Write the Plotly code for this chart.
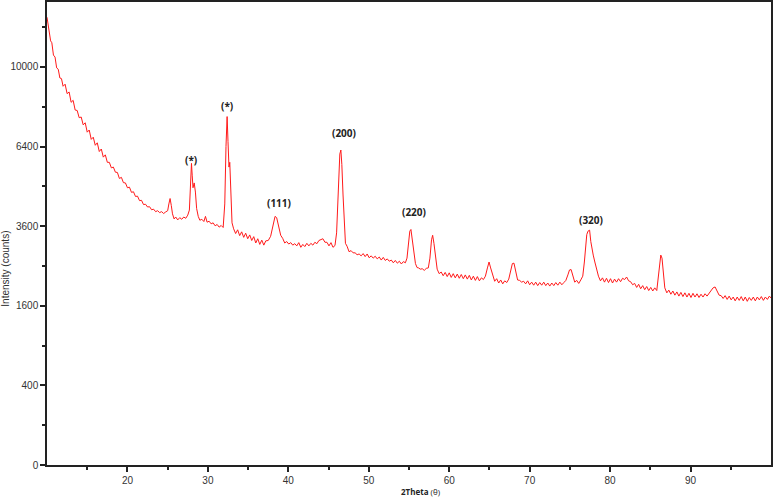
import numpy as np
import plotly.graph_objects as go

# XRD pattern (2theta in degrees, intensity in counts)
two_theta = [
    10.00, 10.15, 10.30, 10.45, 10.60, 10.80, 11.00, 11.20, 11.40, 11.60, 11.80, 12.00,
    12.25, 12.50, 12.75, 13.00, 13.25, 13.50, 13.75, 14.00, 14.25, 14.50, 14.75, 15.00,
    15.25, 15.50, 15.75, 16.00, 16.25, 16.50, 16.75, 17.00, 17.25, 17.50, 17.75, 18.00,
    18.25, 18.50, 18.75, 19.00, 19.25, 19.50, 19.75, 20.00, 20.25, 20.50, 20.75, 21.00,
    21.25, 21.50, 21.75, 22.00, 22.25, 22.50, 22.75, 23.00, 23.25, 23.50, 23.75, 24.00,
    24.25, 24.50, 24.75, 25.00, 25.15, 25.30, 25.45, 25.60, 25.80, 26.00, 26.25, 26.50,
    26.75, 27.00, 27.25, 27.50, 27.70, 27.85, 27.96, 28.05, 28.15, 28.30, 28.45, 28.60,
    28.80, 29.00, 29.25, 29.50, 29.70, 29.90, 30.15, 30.40, 30.65, 30.90, 31.15, 31.40,
    31.65, 31.90, 32.10, 32.25, 32.39, 32.50, 32.62, 32.72, 32.85, 33.00, 33.20, 33.45,
    33.70, 33.95, 34.20, 34.45, 34.70, 34.95, 35.20, 35.45, 35.70, 35.95, 36.20, 36.45,
    36.70, 36.95, 37.20, 37.50, 37.80, 38.10, 38.35, 38.55, 38.80, 39.05, 39.30, 39.55,
    39.80, 40.05, 40.30, 40.55, 40.80, 41.05, 41.30, 41.55, 41.80, 42.05, 42.30, 42.55,
    42.80, 43.05, 43.30, 43.55, 43.80, 44.05, 44.30, 44.55, 44.80, 45.05, 45.30, 45.55,
    45.80, 46.00, 46.20, 46.40, 46.53, 46.65, 46.80, 46.95, 47.10, 47.30, 47.55, 47.80,
    48.05, 48.30, 48.55, 48.80, 49.05, 49.30, 49.55, 49.80, 50.05, 50.30, 50.55, 50.80,
    51.05, 51.30, 51.55, 51.80, 52.05, 52.30, 52.55, 52.80, 53.05, 53.30, 53.55, 53.80,
    54.05, 54.30, 54.55, 54.75, 54.95, 55.10, 55.24, 55.40, 55.60, 55.80, 56.00, 56.20,
    56.40, 56.65, 56.90, 57.15, 57.40, 57.60, 57.80, 57.94, 58.10, 58.30, 58.50, 58.75,
    59.00, 59.25, 59.50, 59.75, 60.00, 60.25, 60.50, 60.75, 61.00, 61.25, 61.50, 61.75,
    62.00, 62.25, 62.50, 62.75, 63.00, 63.25, 63.50, 63.75, 64.00, 64.25, 64.50, 64.75,
    64.95, 65.15, 65.40, 65.65, 65.90, 66.15, 66.40, 66.65, 66.90, 67.15, 67.40, 67.65,
    67.85, 68.05, 68.25, 68.50, 68.75, 69.00, 69.25, 69.50, 69.75, 70.00, 70.25, 70.50,
    70.75, 71.00, 71.25, 71.50, 71.75, 72.00, 72.25, 72.50, 72.75, 73.00, 73.25, 73.50,
    73.75, 74.00, 74.25, 74.50, 74.75, 74.95, 75.15, 75.35, 75.60, 75.85, 76.10, 76.35,
    76.60, 76.80, 76.95, 77.10, 77.25, 77.45, 77.60, 77.75, 77.90, 78.10, 78.30, 78.55,
    78.80, 79.05, 79.30, 79.55, 79.80, 80.05, 80.30, 80.55, 80.80, 81.05, 81.30, 81.55,
    81.80, 82.05, 82.30, 82.55, 82.80, 83.05, 83.30, 83.55, 83.80, 84.05, 84.30, 84.55,
    84.80, 85.05, 85.30, 85.55, 85.80, 86.00, 86.15, 86.30, 86.45, 86.60, 86.80, 87.05,
    87.30, 87.55, 87.80, 88.05, 88.30, 88.55, 88.80, 89.05, 89.30, 89.55, 89.80, 90.05,
    90.30, 90.55, 90.80, 91.05, 91.30, 91.55, 91.80, 92.05, 92.30, 92.55, 92.80, 93.05,
    93.30, 93.55, 93.80, 94.05, 94.30, 94.55, 94.80, 95.05, 95.30, 95.55, 95.80, 96.05,
    96.30, 96.55, 96.80, 97.05, 97.30, 97.55, 97.80, 98.05, 98.30, 98.55, 98.80, 99.05,
    99.30, 99.55, 99.80, 100.0,
]
counts = [
    12650, 12200, 11990, 11350, 11250, 10600, 10500, 9950, 9880, 9450, 9420, 9050,
    9150, 8700, 8780, 8300, 8390, 7950, 7930, 7610, 7640, 7300, 7390, 6990,
    7080, 6690, 6780, 6450, 6550, 6200, 6300, 5980, 6070, 5780, 5780, 5570,
    5600, 5410, 5400, 5180, 5220, 5030, 5020, 4850, 4870, 4690, 4710, 4550,
    4560, 4410, 4420, 4280, 4290, 4200, 4210, 4110, 4130, 4050, 4080, 4020,
    4050, 3990, 4040, 4080, 4300, 4480, 4250, 3980, 3820, 3880, 3790, 3860,
    3810, 3880, 3840, 3940, 4100, 5200, 5740, 5300, 4850, 5020, 4700, 4150,
    3900, 3780, 3810, 3740, 3900, 3720, 3750, 3670, 3700, 3610, 3650, 3570,
    3620, 3560, 4300, 6400, 7660, 6600, 5600, 5780, 4600, 3700, 3520, 3380,
    3490, 3320, 3430, 3270, 3390, 3230, 3340, 3180, 3290, 3110, 3230, 3070,
    3190, 3050, 3170, 3180, 3300, 3650, 3900, 3860, 3550, 3330, 3240, 3110,
    3150, 3080, 3120, 3050, 3090, 3030, 3120, 2990, 3070, 3010, 3100, 3030,
    3100, 3050, 3130, 3090, 3180, 3200, 3230, 3130, 3130, 3030, 3120, 2990,
    3040, 3400, 4700, 6100, 6260, 5700, 4600, 3500, 3100, 3020, 2870, 2900,
    2840, 2840, 2790, 2810, 2760, 2820, 2740, 2810, 2710, 2760, 2700, 2750,
    2680, 2730, 2650, 2720, 2640, 2680, 2620, 2650, 2580, 2640, 2570, 2620,
    2550, 2610, 2580, 2700, 3150, 3450, 3500, 3200, 2750, 2560, 2460, 2450,
    2420, 2430, 2390, 2440, 2450, 2700, 3200, 3330, 3100, 2650, 2420, 2310,
    2350, 2260, 2340, 2240, 2330, 2220, 2310, 2210, 2300, 2200, 2290, 2190,
    2280, 2180, 2270, 2160, 2250, 2150, 2240, 2140, 2210, 2170, 2250, 2450,
    2600, 2450, 2260, 2130, 2190, 2090, 2160, 2070, 2140, 2100, 2180, 2400,
    2560, 2570, 2350, 2160, 2150, 2110, 2130, 2070, 2140, 2050, 2110, 2040,
    2110, 2030, 2100, 2040, 2110, 2030, 2090, 2020, 2090, 2030, 2100, 2040,
    2110, 2050, 2100, 2150, 2280, 2400, 2410, 2250, 2110, 2150, 2080, 2160,
    2250, 2600, 3100, 3350, 3450, 3480, 3150, 2900, 2780, 2600, 2420, 2250,
    2140, 2210, 2110, 2200, 2100, 2190, 2090, 2180, 2110, 2190, 2120, 2200,
    2170, 2230, 2140, 2120, 2050, 2080, 1990, 2060, 1960, 2030, 1940, 2010,
    1920, 1990, 1910, 1980, 1920, 2200, 2550, 2780, 2700, 2300, 1980, 1870,
    1930, 1840, 1910, 1820, 1890, 1800, 1880, 1790, 1870, 1780, 1860, 1770,
    1860, 1780, 1850, 1770, 1840, 1780, 1850, 1800, 1860, 1920, 1980, 2000,
    1900, 1820, 1810, 1750, 1810, 1730, 1800, 1720, 1780, 1700, 1780, 1710,
    1790, 1700, 1780, 1690, 1770, 1710, 1780, 1700, 1780, 1720, 1790, 1710,
    1780, 1730, 1800, 1760,
]

# peak labels: text, 2theta, intensity of label position
peak_labels = ["(*)", "(*)", "(111)", "(200)", "(220)", "(320)"]
label_theta = [27.96, 32.39, 38.86, 46.95, 55.65, 77.6]
label_counts = [5870, 8120, 4320, 6960, 4050, 3780]

# y axis is a square-root scale
y_ticks = [0, 400, 1600, 3600, 6400, 10000]
y_minor = [100, 900, 2500, 4900, 8100, 12100]
x_ticks = [20, 30, 40, 50, 60, 70, 80, 90]
x_minor = [15, 25, 35, 45, 55, 65, 75, 85, 95]

fig = go.Figure()
fig.add_trace(go.Scatter(
    x=two_theta, y=np.sqrt(counts),
    mode="lines",
    line=dict(color="#ff1a1a", width=1),
    showlegend=False,
))

for txt, tx, ty in zip(peak_labels, label_theta, label_counts):
    fig.add_annotation(x=tx, y=float(np.sqrt(ty)), text=f"<b>{txt}</b>",
                       showarrow=False, font=dict(family="Open Sans", size=10, color="#222"))

fig.add_annotation(xref="paper", yref="paper", x=-0.0573, y=0.423,
                   xanchor="center", yanchor="middle", text="Intensity (counts)",
                   textangle=-90, showarrow=False,
                   font=dict(family="Liberation Sans", size=10, color="#333"))
fig.add_annotation(xref="paper", yref="paper", x=0.5166, y=-0.058,
                   xanchor="center", yanchor="middle",
                   text="<b>2Theta</b> (θ)", showarrow=False,
                   font=dict(family="Open Sans", size=8, color="#222"))

axis_style = dict(showline=True, linecolor="#222", linewidth=1.5, mirror=True,
                  showgrid=False, zeroline=False, ticks="outside", ticklen=5,
                  tickcolor="#222", tickwidth=1.5, automargin=False,
                  tickfont=dict(family="Liberation Sans", size=10, color="#333"))

fig.update_layout(
    width=778, height=499,
    margin=dict(l=47, r=7, t=2, b=34, autoexpand=False),
    paper_bgcolor="white", plot_bgcolor="white",
    xaxis=dict(range=[10, 100], tickmode="array", tickvals=x_ticks,
               minor=dict(tickvals=x_minor, ticks="outside", ticklen=3, tickcolor="#222"),
               **axis_style),
    yaxis=dict(range=[0, 116.3], tickmode="array",
               tickvals=[float(np.sqrt(v)) for v in y_ticks],
               ticktext=[str(v) for v in y_ticks],
               minor=dict(tickvals=[float(np.sqrt(v)) for v in y_minor],
                          ticks="outside", ticklen=3, tickcolor="#222"),
               **axis_style),
)

# the page body has a default 8px margin; drop it so the figure fills the window
fig.write_html("out.html", config={"displayModeBar": False},
               post_script="document.body.style.margin = '0';")
